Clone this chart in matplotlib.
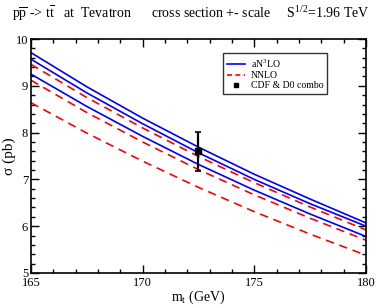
import matplotlib
matplotlib.use("Agg")
import matplotlib.pyplot as plt
from matplotlib.ticker import MultipleLocator
from matplotlib.lines import Line2D

plt.rcParams['font.family'] = ['Liberation Serif', 'DejaVu Serif']
plt.rcParams['mathtext.fontset'] = 'custom'
plt.rcParams['mathtext.rm'] = 'Liberation Serif'
plt.rcParams['mathtext.it'] = 'Liberation Serif:italic'

# top mass points (GeV)
mt = [165, 167.5, 170, 172.5, 175, 177.5, 180]

# aN3LO: upper scale, central, lower scale (pb)
an3lo_up = [9.71, 8.98, 8.31, 7.69, 7.11, 6.58, 6.07]
an3lo_mid = [9.57, 8.85, 8.19, 7.57, 7.00, 6.48, 6.00]
an3lo_lo = [9.25, 8.56, 7.92, 7.32, 6.77, 6.26, 5.78]

# NNLO: upper, central, lower (pb)
nnlo_up = [9.46, 8.75, 8.10, 7.49, 6.93, 6.41, 5.92]
nnlo_mid = [9.12, 8.43, 7.80, 7.21, 6.67, 6.17, 5.70]
nnlo_lo = [8.64, 7.99, 7.39, 6.83, 6.31, 5.83, 5.38]

# CDF & D0 combination
exp_mt = [172.5]
exp_xs = [7.60]
exp_err = [0.41]

fig = plt.figure(figsize=(3.82, 3.05), dpi=100)
ax = fig.add_axes([0.081, 0.105, 0.877, 0.767])

for y in [an3lo_up, an3lo_mid, an3lo_lo]:
    ax.plot(mt, y, color='blue', lw=1.2)
for y in [nnlo_up, nnlo_mid, nnlo_lo]:
    ax.plot(mt, y, color='red', lw=1.2, dashes=(5, 3.5))

ax.errorbar(exp_mt, exp_xs, yerr=exp_err, fmt='s', color='black', ms=4,
            elinewidth=1.6, capsize=2.5, capthick=1.2)

ax.set_xlim(165, 180)
ax.set_ylim(5, 10)
ax.xaxis.set_major_locator(MultipleLocator(5))
ax.xaxis.set_minor_locator(MultipleLocator(1))
ax.yaxis.set_major_locator(MultipleLocator(1))
ax.yaxis.set_minor_locator(MultipleLocator(0.2))
ax.tick_params(which='both', direction='in', top=True, right=True, labelsize=9)
ax.tick_params(axis='y', pad=2)
ax.tick_params(axis='x', pad=3)
ax.tick_params(which='major', length=6, width=1)
ax.tick_params(which='minor', length=3, width=1)
for s in ax.spines.values():
    s.set_linewidth(1.2)

ax.set_xlabel('m$_\\mathrm{t}$ (GeV)', fontsize=10, labelpad=0)
ax.set_ylabel('σ (pb)', fontsize=11)
ax.yaxis.set_label_coords(-0.045, 0.5)

handles = [Line2D([], [], color='blue', lw=1.2),
           Line2D([], [], color='red', lw=1.2, dashes=(3, 2)),
           Line2D([], [], color='black', marker='s', ms=3.5, ls='none')]
labels = ['aN$^3$LO', 'NNLO', 'CDF & D0 combo']
leg = ax.legend(handles, labels, loc='upper left', bbox_to_anchor=(0.56, 0.96), fontsize=7,
                frameon=True, fancybox=False, edgecolor='black', handlelength=1.8,
                borderpad=0.4, labelspacing=0.15, handletextpad=0.6)
leg.get_frame().set_linewidth(1.0)

fig.text(0.5, 0.955, r'$\mathrm{p\overline{p}}$ -> $\mathrm{t\overline{t}}$   at  Tevatron'
         r'      cross section +- scale     S$^{1/2}$=1.96 TeV',
         ha='center', va='center', fontsize=10)

fig.savefig('out.png', dpi=100)
